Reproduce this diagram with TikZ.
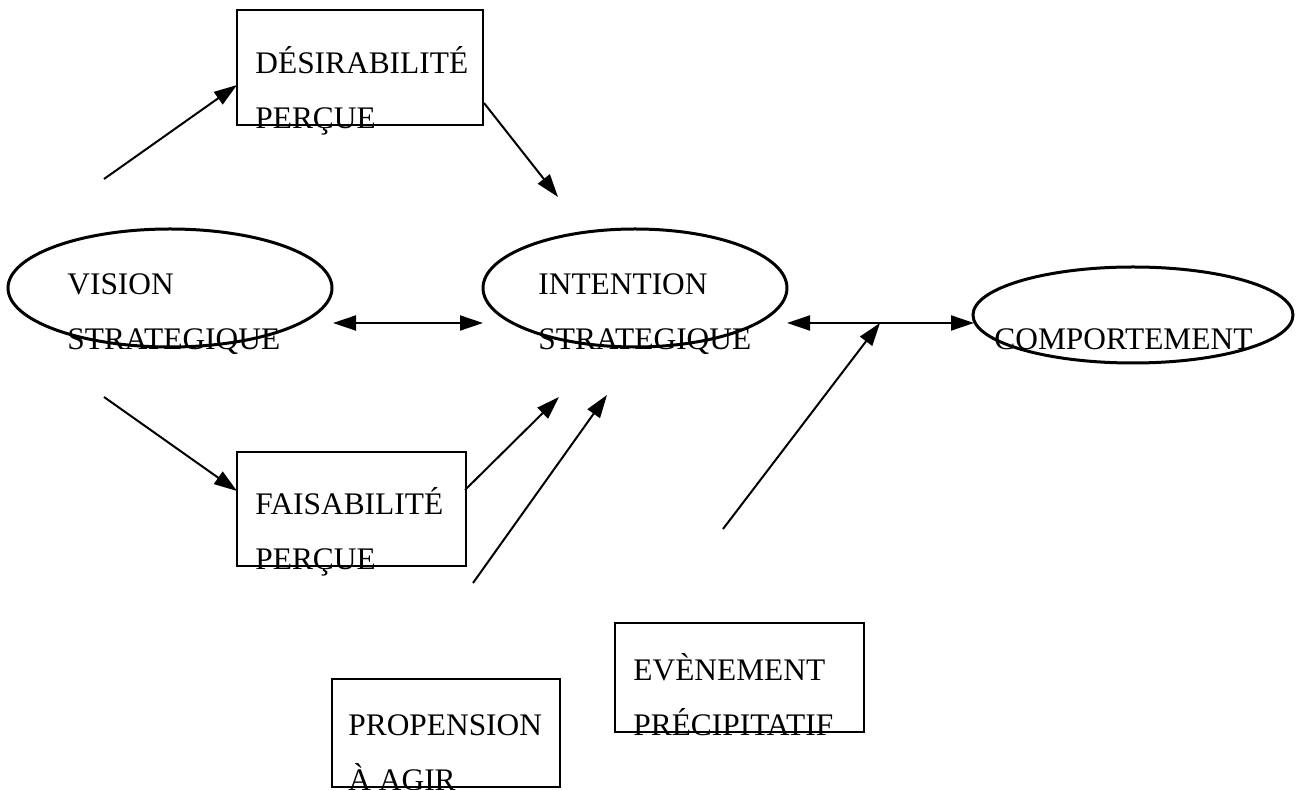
\documentclass[tikz,border=0pt]{standalone}
\usepackage{fontspec}
\setmainfont{Liberation Serif}
\usetikzlibrary{shapes.geometric,arrows.meta}

\begin{document}
\begin{tikzpicture}[x=0.5pt, y=-0.5pt,
        >={Triangle[length=11.5pt,width=7.5pt]},
        oval/.style={ellipse, draw, line width=1.5pt, inner sep=0pt},
        box/.style={rectangle, draw, line width=1pt, inner sep=0pt},
        lbl/.style={anchor=base west, align=left, inner sep=0pt,
            font=\fontsize{15.7pt}{27.5pt}\selectfont},
        link/.style={line width=1pt}]

        \useasboundingbox (0,0) rectangle (1297,790);

        % Vision strategique
        \node[oval, minimum width=162pt, minimum height=59pt] (vision) at (170,288) {};
        \node[lbl] (visiontext) at (67,350) {VISION\\STRATEGIQUE};

        % Intention strategique
        \node[oval, minimum width=152pt, minimum height=59pt] (intention) at (635,288) {};
        \node[lbl] (intentiontext) at (538,350) {INTENTION\\STRATEGIQUE};

        % Comportement
        \node[oval, minimum width=160pt, minimum height=48pt] (comport) at (1133,315) {};
        \node[lbl] (comporttext) at (994,350) {COMPORTEMENT};

        % Desirabilite percue
        \node[box, minimum width=123pt, minimum height=57.5pt] (desir) at (360,67.5) {};
        \node[lbl] (desirtext) at (255,129) {DÉSIRABILITÉ\\PERÇUE};

        % Faisabilite percue
        \node[box, minimum width=114.5pt, minimum height=57pt] (faisab) at (351.5,509) {};
        \node[lbl] (faisabtext) at (255,570) {FAISABILITÉ\\PERÇUE};

        % Propension a agir
        \node[box, minimum width=114pt, minimum height=54pt] (propen) at (446,733) {};
        \node[lbl] (propentext) at (348,791) {PROPENSION\\À AGIR};

        % Evenement precipitatif
        \node[box, minimum width=124.5pt, minimum height=54.5pt] (evenem) at (739.5,677.5) {};
        \node[lbl] (evenemtext) at (633,736) {EVÈNEMENT\\PRÉCIPITATIF};

        % free ends of the connectors
        \coordinate (visionup) at (104,179);
        \coordinate (desirin) at (237,85);
        \coordinate (desirout) at (484,103);
        \coordinate (intentionup) at (558,197);
        \coordinate (visiondown) at (104,397);
        \coordinate (faisabin) at (237,491);
        \coordinate (faisabout) at (465,490);
        \coordinate (intentionlow) at (559,397);
        \coordinate (propenout) at (473,583);
        \coordinate (intentionmid) at (607,395);
        \coordinate (visionright) at (333,323);
        \coordinate (intentionleft) at (483,323);
        \coordinate (intentionright) at (787,323);
        \coordinate (comportleft) at (974,323);
        \coordinate (evenemout) at (723,529);
        \coordinate (junction) at (880,323);

        \draw[link,->] (visionup) -- (desirin);
        \draw[link,->] (desirout) -- (intentionup);
        \draw[link,->] (visiondown) -- (faisabin);
        \draw[link,->] (faisabout) -- (intentionlow);
        \draw[link,->] (propenout) -- (intentionmid);
        \draw[link,<->] (visionright) -- (intentionleft);
        \draw[link,<->] (intentionright) -- (comportleft);
        \draw[link,->] (evenemout) -- (junction);
    \end{tikzpicture}
\end{document}
